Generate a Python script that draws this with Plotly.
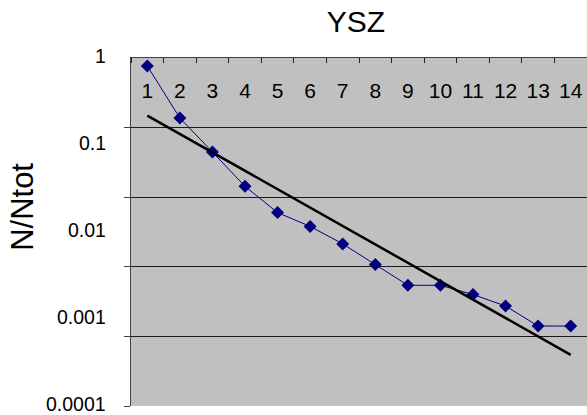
import numpy as np
import plotly.graph_objects as go

# Data
categories = list(range(1, 15))
n_over_ntot = [0.81, 0.204, 0.083, 0.0335, 0.0167, 0.0116, 0.0073, 0.00424,
               0.00244, 0.00244, 0.00191, 0.00141, 0.00083, 0.00083]
y_tick_vals = [1, 0.1, 0.01, 0.001, 0.0001]
y_tick_text = ["1", "0.1", "0.01", "0.001", "0.0001"]

# Exponential trend line (least squares in log space), as Excel does
coef = np.polyfit(categories, np.log10(n_over_ntot), 1)
trend = [10 ** np.polyval(coef, c) for c in categories]

FONT = "Arial, Liberation Sans, sans-serif"

fig = go.Figure()
# invisible trace to activate yaxis2 (grid + ticks), drawn first
fig.add_trace(go.Scatter(x=[None], y=[None], yaxis="y2", xaxis="x",
                         showlegend=False, hoverinfo="skip"))
fig.add_trace(go.Scatter(
    x=categories, y=n_over_ntot, mode="lines+markers",
    line=dict(color="#000080", width=1),
    marker=dict(symbol="diamond", size=10, color="#000080"),
    showlegend=False, xaxis="x", yaxis="y"))
fig.add_trace(go.Scatter(
    x=categories, y=trend, mode="lines",
    line=dict(color="black", width=2.5),
    showlegend=False, xaxis="x", yaxis="y"))

# y tick labels placed on the log axis scale (annotation y is in log10 units)
tick_annotations = [
    dict(text=t, xref="paper", yref="y", x=-0.053, y=float(np.log10(v)),
         xanchor="right", yanchor="middle", showarrow=False, yshift=2,
         borderpad=0,
         font=dict(size=19.5, family=FONT, color="black"))
    for v, t in zip(y_tick_vals, y_tick_text)
]

fig.update_layout(
    width=587, height=415,
    margin=dict(l=131, r=0, t=58, b=9),
    paper_bgcolor="white", plot_bgcolor="#C0C0C0",
    font=dict(family=FONT, color="black"),
    title=dict(text="YSZ", x=0.6065, xref="container", xanchor="center",
               y=0.947, yref="container", yanchor="middle",
               font=dict(size=30, family=FONT, color="black")),
    xaxis=dict(
        type="linear", range=[0.5, 14.5], side="top",
        tickmode="array", tickvals=categories, ticktext=[str(c) for c in categories],
        ticks="", ticklabelposition="inside", ticklabelstandoff=27,
        tickfont=dict(size=21, family=FONT, color="black"),
        showgrid=False, zeroline=False,
        showline=True, linecolor="#404040", linewidth=1,
        minor=dict(ticks="inside", ticklen=5, tickcolor="#202020", tickwidth=1,
                   tickmode="array", tickvals=[c - 0.5 for c in categories] + [14.5],
                   showgrid=False),
    ),
    yaxis=dict(
        type="log", range=[-4, 0],
        showticklabels=False, ticks="",
        showgrid=False, zeroline=False,
        showline=True, linecolor="#404040", linewidth=1,
    ),
    yaxis2=dict(
        overlaying="y", side="left", range=[0, 5], type="linear",
        tickmode="linear", tick0=0, dtick=1,
        ticks="outside", ticklen=6, tickcolor="#404040",
        showticklabels=False, showgrid=True, gridcolor="#1a1a1a", gridwidth=1,
        zeroline=False, showline=False,
    ),
    annotations=tick_annotations + [dict(
        text="N/Ntot", textangle=-90, xref="paper", yref="paper",
        x=-0.237, y=0.572, xanchor="center", yanchor="middle",
        showarrow=False, font=dict(size=31, family=FONT, color="black"))],
)

fig.write_html("out.html")
